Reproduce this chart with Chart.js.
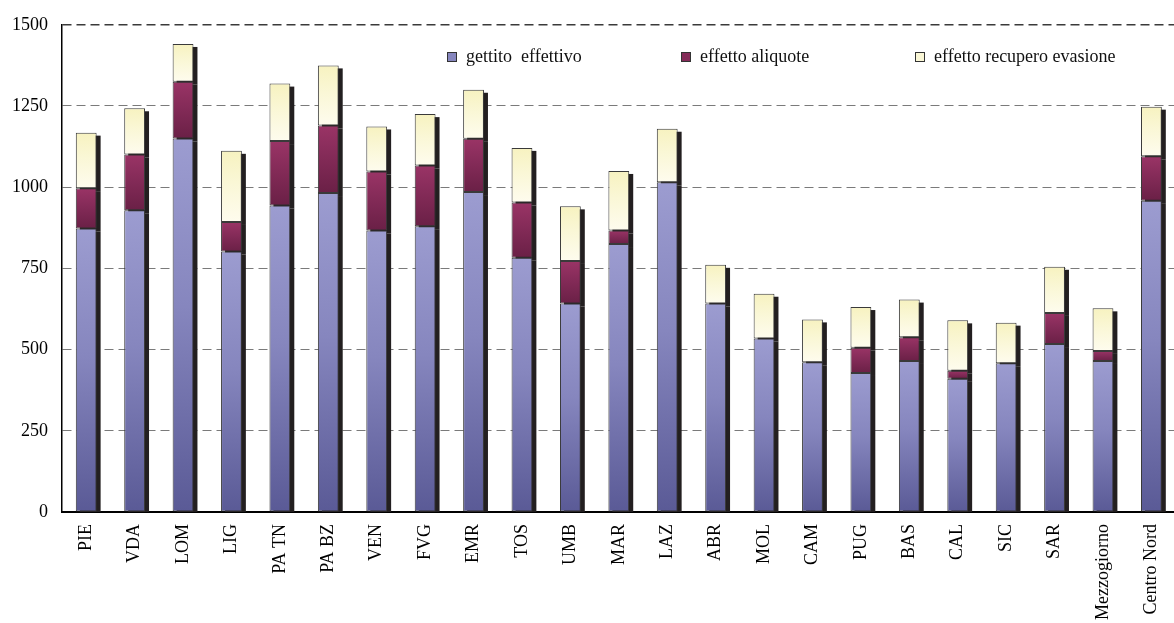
<!DOCTYPE html>
<html>
<head>
<meta charset="utf-8">
<script src="https://cdn.jsdelivr.net/npm/chart.js@4"></script>
<style>
  html, body { margin: 0; padding: 0; background: #fff; overflow: hidden; width: 1174px; height: 623px; }
  #wrap { position: relative; width: 1185px; height: 623px; }
  canvas { display: block; }
</style>
</head>
<body>
<div id="wrap"><canvas id="c" width="1185" height="623"></canvas></div>
<script>
const categories = ['PIE','VDA','LOM','LIG','PA TN','PA BZ','VEN','FVG','EMR','TOS','UMB','MAR','LAZ','ABR','MOL','CAM','PUG','BAS','CAL','SIC','SAR','Mezzogiorno','Centro Nord'];
const gettitoEffettivo = [873, 929, 1150, 802, 944, 982, 867, 880, 985, 783, 642, 825, 1015, 642, 534, 461, 428, 465, 410, 458, 517, 465, 958];
const effettoAliquote  = [124, 172, 175, 91, 198, 208, 181, 187, 164, 170, 131, 42, 0, 0, 0, 0, 78, 73, 25, 0, 96, 31, 137];
const effettoRecupero  = [171, 142, 116, 219, 177, 185, 139, 158, 151, 168, 168, 183, 165, 119, 138, 132, 125, 116, 155, 125, 142, 131, 153];
const seriesLabels = ['gettito  effettivo', 'effetto aliquote', 'effetto recupero evasione'];
const yMin = 0, yMax = 1500, yStep = 250;

const FONT = "'Liberation Serif', 'Times New Roman', serif";
const blueStops = ['#9c9cd0', '#8686be', '#5a5a96'];
const purpleStops = ['#9a3466', '#842b58', '#6a2046'];
const yellowStops = ['#f7f2c0', '#faf7d6', '#fefcee'];

function segGradient(stops) {
  return function(ctx) {
    const chart = ctx.chart;
    if (!chart.chartArea || ctx.type !== 'data' || !chart.scales.y) return stops[1];
    const i = ctx.datasetIndex, j = ctx.dataIndex;
    let base = 0;
    for (let k = 0; k < i; k++) base += chart.data.datasets[k].data[j];
    const top = base + chart.data.datasets[i].data[j];
    const y0 = chart.scales.y.getPixelForValue(top);
    const y1 = chart.scales.y.getPixelForValue(base);
    if (!(y1 > y0 + 0.5)) return stops[1];
    const g = chart.ctx.createLinearGradient(0, y0, 0, y1);
    g.addColorStop(0, stops[0]);
    g.addColorStop(0.45, stops[1]);
    g.addColorStop(1, stops[2]);
    return g;
  };
}

const shadowPlugin = {
  id: 'barShadow',
  beforeDatasetsDraw(chart) {
    const ctx = chart.ctx, a = chart.chartArea;
    ctx.save();
    ctx.beginPath();
    ctx.rect(a.left, a.top, a.right - a.left, a.bottom - a.top);
    ctx.clip();
    ctx.fillStyle = '#231f20';
    chart.data.datasets.forEach((ds, i) => {
      const meta = chart.getDatasetMeta(i);
      meta.data.forEach(el => {
        const p = el.getProps(['x', 'y', 'base', 'width'], true);
        const h = p.base - p.y;
        if (h <= 0.5) return;
        ctx.fillRect(p.x - p.width / 2 + 4, p.y + 3, p.width, h);
      });
    });
    ctx.restore();
  }
};

const legendPlugin = {
  id: 'innerLegend',
  afterDraw(chart) {
    const ctx = chart.ctx;
    const xs = [447, 681, 915];
    const cols = [blueStops[1], purpleStops[1], yellowStops[1]];
    const yc = 57;
    ctx.save();
    ctx.font = '18px ' + FONT;
    ctx.textBaseline = 'middle';
    ctx.textAlign = 'left';
    chart.data.datasets.forEach((ds, i) => {
      ctx.fillStyle = cols[i];
      ctx.fillRect(xs[i], yc - 5, 9, 9);
      ctx.strokeStyle = '#333';
      ctx.lineWidth = 1;
      ctx.strokeRect(xs[i] + 0.5, yc - 4.5, 9, 9);
      ctx.fillStyle = '#111';
      ctx.fillText(ds.label, xs[i] + 19, yc);
    });
    ctx.restore();
  }
};

const commonBar = {
  borderWidth: 1,
  borderColor: '#3a3a3a',
  borderSkipped: false,
  categoryPercentage: 1.0,
  barPercentage: 0.43
};

new Chart(document.getElementById('c'), {
  type: 'bar',
  data: {
    labels: categories,
    datasets: [
      Object.assign({ label: seriesLabels[0], data: gettitoEffettivo, backgroundColor: segGradient(blueStops) }, commonBar),
      Object.assign({ label: seriesLabels[1], data: effettoAliquote, backgroundColor: segGradient(purpleStops) }, commonBar),
      Object.assign({ label: seriesLabels[2], data: effettoRecupero, backgroundColor: segGradient(yellowStops), borderColor: '#5a5a50' }, commonBar)
    ]
  },
  options: {
    responsive: false,
    animation: false,
    devicePixelRatio: 1,
    layout: { padding: { top: 20, left: 0, right: 0, bottom: 0 } },
    plugins: { legend: { display: false }, tooltip: { enabled: false } },
    scales: {
      x: {
        stacked: true,
        grid: { display: false, drawTicks: false },
        border: { display: true, color: '#000', width: 2 },
        ticks: {
          autoSkip: false, minRotation: 90, maxRotation: 90, padding: 12,
          color: '#000', font: { family: FONT, size: 18 }
        },
        afterFit(s) { s.height = 111; }
      },
      y: {
        stacked: true,
        min: yMin, max: yMax,
        grid: {
          drawTicks: false,
          color: (c) => c.tick && c.tick.value === yMin ? 'rgba(0,0,0,0)' : (c.tick && c.tick.value === yMax ? '#3a3a3a' : '#7a7a7a'),
          lineWidth: (c) => c.tick && c.tick.value === yMax ? 1.5 : 1
        },
        border: { display: true, color: '#000', width: 1.5, dash: [9, 5] },
        ticks: {
          stepSize: yStep, padding: 14, color: '#000',
          font: { family: FONT, size: 18 },
          callback: (v) => String(v)
        },
        afterFit(s) { s.width = 62; }
      }
    }
  },
  plugins: [shadowPlugin, legendPlugin]
});
</script>
</body>
</html>
